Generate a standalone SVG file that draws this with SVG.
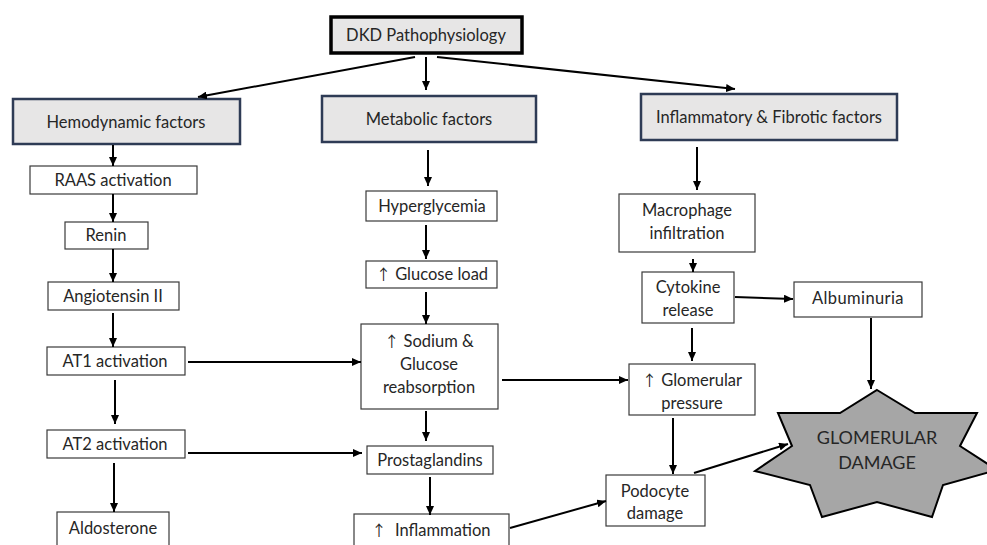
<svg xmlns="http://www.w3.org/2000/svg" width="987" height="545" viewBox="0 0 987 545">
<style>
text{font-family:Lato,"Liberation Sans",Arial,sans-serif;font-size:16.5px;fill:#262626;text-anchor:middle}
.ar{font-family:"Noto Sans CJK SC","DejaVu Sans",sans-serif;font-size:15px;fill:#262626}
.box{fill:#fff;stroke:#3a3a3a;stroke-width:1.2}
.fac{fill:#e7e6e6;stroke:#2e3b55;stroke-width:2.5}
.top{fill:#e7e6e6;stroke:#000;stroke-width:3.5}
.c line{stroke:#000;stroke-width:2;marker-end:url(#ah)}
.big{font-size:18px;fill:#262626}
</style>
<defs>
<marker id="ah" markerUnits="userSpaceOnUse" markerWidth="10" markerHeight="8" refX="9" refY="4" orient="auto">
<path d="M0,0 L9,4 L0,8 z" fill="#000"/>
</marker>
</defs>
<rect width="987" height="545" fill="#fff"/>

<g id="dkd"><rect class="top" x="331" y="17" width="191" height="36"/><text x="426" y="41">DKD Pathophysiology</text></g>
<g id="hemo"><rect class="fac" x="13" y="99" width="227" height="45"/><text x="126" y="128">Hemodynamic factors</text></g>
<g id="meta"><rect class="fac" x="322" y="96" width="214" height="46"/><text x="429" y="125">Metabolic factors</text></g>
<g id="infl"><rect class="fac" x="641" y="94" width="256" height="46"/><text x="769" y="123">Inflammatory &amp; Fibrotic factors</text></g>

<g id="raas"><rect class="box" x="30" y="166" width="167" height="28"/><text x="113" y="186">RAAS activation</text></g>
<g id="renin"><rect class="box" x="65" y="222" width="83" height="27"/><text x="106" y="241">Renin</text></g>
<g id="ang"><rect class="box" x="48" y="282" width="131" height="28"/><text x="113" y="302">Angiotensin II</text></g>
<g id="at1"><rect class="box" x="47" y="347" width="138" height="28"/><text x="115" y="367">AT1 activation</text></g>
<g id="at2"><rect class="box" x="47" y="430" width="138" height="28"/><text x="115" y="450">AT2 activation</text></g>
<g id="aldo"><rect class="box" x="57" y="512" width="112" height="40"/><text x="113" y="534">Aldosterone</text></g>

<g id="hyper"><rect class="box" x="366" y="191" width="131" height="30"/><text x="432" y="212">Hyperglycemia</text></g>
<g id="gluc"><rect class="box" x="366" y="261" width="131" height="27"/><text x="432" y="280"><tspan class="ar">↑</tspan> Glucose load</text></g>
<g id="sod"><rect class="box" x="361" y="324" width="137" height="85"/><text x="429" y="347"><tspan class="ar">↑</tspan> Sodium &amp;</text><text x="429" y="370">Glucose</text><text x="429" y="393">reabsorption</text></g>
<g id="prost"><rect class="box" x="367" y="446" width="126" height="28"/><text x="430" y="466">Prostaglandins</text></g>
<g id="inflam"><rect class="box" x="354" y="514" width="155" height="40"/><text x="431" y="536" xml:space="preserve"><tspan class="ar">↑</tspan>  Inflammation</text></g>

<g id="macro"><rect class="box" x="619" y="194" width="136" height="58"/><text x="687" y="216">Macrophage</text><text x="687" y="239">infiltration</text></g>
<g id="cyto"><rect class="box" x="642" y="272" width="92" height="51"/><text x="688" y="293">Cytokine</text><text x="688" y="316">release</text></g>
<g id="albu"><rect class="box" x="794" y="282" width="128" height="35"/><text x="858" y="304" letter-spacing="0.4">Albuminuria</text></g>
<g id="glpr"><rect class="box" x="629" y="364" width="126" height="51"/><text x="692" y="386"><tspan class="ar">↑</tspan> Glomerular</text><text x="692" y="409">pressure</text></g>
<g id="podo"><rect class="box" x="606" y="475" width="99" height="51"/><text x="655" y="497">Podocyte</text><text x="655" y="519">damage</text></g>

<g id="glom">
<polygon points="877,390 915,413 977,413 960,446 997,470 943,485 932,517 877,502 822,517 810,485 755,471 792,446 778,413 840,413" fill="#a6a6a6" stroke="#000" stroke-width="2" stroke-linejoin="miter"/>
<text class="big" x="877" y="444">GLOMERULAR</text><text class="big" x="877" y="469">DAMAGE</text>
</g>

<g class="c" id="connectors">
<line x1="415" y1="57" x2="198" y2="97"/>
<line x1="426" y1="57" x2="426" y2="90"/>
<line x1="437" y1="57" x2="735" y2="89"/>
<line x1="113" y1="145" x2="113" y2="166"/>
<line x1="113" y1="194" x2="113" y2="222"/>
<line x1="113" y1="249" x2="113" y2="282"/>
<line x1="113" y1="313" x2="113" y2="347"/>
<line x1="115" y1="380" x2="115" y2="424"/>
<line x1="114" y1="463" x2="114" y2="512"/>
<line x1="188" y1="362" x2="361" y2="362"/>
<line x1="188" y1="453" x2="362" y2="453"/>
<line x1="428" y1="150" x2="428" y2="186"/>
<line x1="426" y1="225" x2="426" y2="259"/>
<line x1="426" y1="292" x2="426" y2="324"/>
<line x1="426" y1="411" x2="426" y2="441"/>
<line x1="430" y1="477" x2="430" y2="515"/>
<line x1="502" y1="380" x2="628" y2="380"/>
<line x1="510" y1="528" x2="606" y2="501"/>
<line x1="697" y1="147" x2="697" y2="190"/>
<line x1="693" y1="259" x2="693" y2="272"/>
<line x1="735" y1="297" x2="793" y2="299"/>
<line x1="871" y1="318" x2="871" y2="389"/>
<line x1="692" y1="328" x2="692" y2="361"/>
<line x1="673" y1="418" x2="673" y2="474"/>
<line x1="694" y1="473" x2="788" y2="444"/>
</g>
</svg>
